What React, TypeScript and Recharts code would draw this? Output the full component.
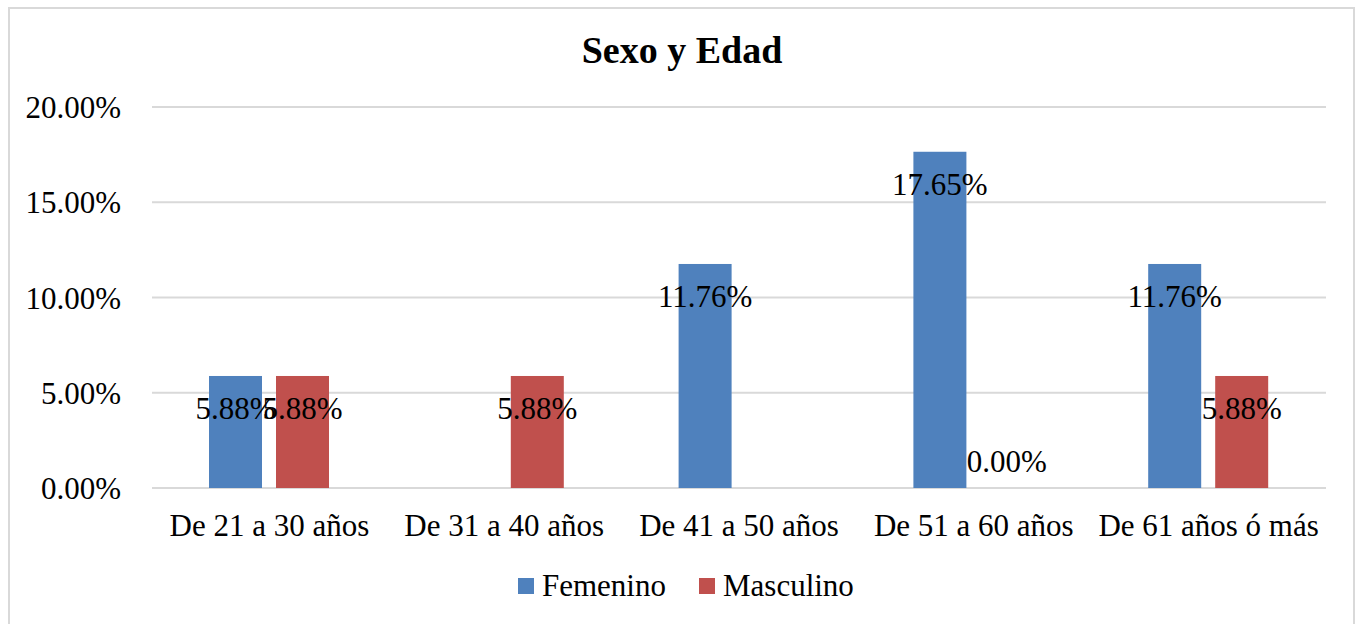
import React from 'react';
import { BarChart, Bar, XAxis, YAxis, CartesianGrid, Legend, LabelList, Rectangle } from 'recharts';

const categories = ['De 21 a 30 años', 'De 31 a 40 años', 'De 41 a 50 años', 'De 51 a 60 años', 'De 61 años ó más'];
const femenino: (number | null)[] = [5.88, null, 11.76, 17.65, 11.76];
const masculino: (number | null)[] = [5.88, 5.88, null, 0, 5.88];
const yTicks = [0, 5, 10, 15, 20];
const seriesNames = ['Femenino', 'Masculino'];
const seriesColors = ['#4F81BD', '#C0504D'];

const data = categories.map((c, i) => ({ name: c, Femenino: femenino[i], Masculino: masculino[i] }));

const FONT = "'Times New Roman', 'Liberation Serif', serif";

const labelText = (cx: number, ty: number, value: number) => (
  <text x={cx} y={ty} textAnchor="middle" fontSize={31} fontFamily={FONT} fill="#000">
    {value.toFixed(2)}%
  </text>
);

const renderLabel = (props: any) => {
  const { x, y, width, height, value } = props;
  if (value === null || value === undefined || Number(value) === 0) return null;
  const cx = Number(x) + Number(width) / 2;
  const ty = Number(y) + 43;
  void height;
  return labelText(cx, ty, Number(value));
};

const makeShape = (fill: string) => (props: any) => {
  const { x, y, width, height, value, payload } = props;
  const v = Array.isArray(value) ? value[1] : value;
  const isZero = v === 0 && payload != null;
  return (
    <g>
      {Number(height) > 0 ? <rect x={x} y={y} width={width} height={height} fill={fill} /> : null}
      {isZero ? labelText(Number(x) + Number(width) / 2, Number(y) - 16, 0) : null}
    </g>
  );
};

const renderLegend = () => (
  <div style={{ display: 'flex', alignItems: 'center', fontFamily: FONT, fontSize: 31, lineHeight: '36px', color: '#000' }}>
    {seriesNames.map((n, i) => (
      <div key={n} style={{ display: 'flex', alignItems: 'center', marginRight: i === 0 ? 33 : 0 }}>
        <div style={{ width: 16, height: 16, background: seriesColors[i], marginRight: 8 }} />
        <span>{n}</span>
      </div>
    ))}
  </div>
);

void Rectangle;

export default function App() {
  return (
    <div style={{ position: 'absolute', left: 0, top: 0, width: 1359, height: 624, overflow: 'hidden', background: '#fff' }}>
      <div style={{ position: 'absolute', left: 8, top: 7, width: 1347, height: 640, border: '2px solid #D9D9D9', boxSizing: 'border-box' }} />
      <div style={{ position: 'absolute', left: 0, top: 28, width: 1364, textAlign: 'center', fontFamily: FONT, fontSize: 38, fontWeight: 'bold', lineHeight: '44px', color: '#000' }}>
        Sexo y Edad
      </div>
      <div style={{ position: 'absolute', left: 0, top: 0 }}>
        <BarChart width={1359} height={624} data={data} margin={{ top: 107, right: 33, left: 0, bottom: 0 }} barSize={53} barGap={14}>
          <CartesianGrid horizontal vertical={false} stroke="#D9D9D9" strokeWidth={2} />
          <XAxis dataKey="name" height={136} axisLine={false} tickLine={false} tickSize={0} tickMargin={26}
            tick={{ fontSize: 31, fontFamily: FONT, fill: '#000' }} interval={0} />
          <YAxis width={152} domain={[0, 20]} ticks={yTicks} axisLine={false} tickLine={false} tickSize={0} tickMargin={31}
            tickFormatter={(v: number) => v.toFixed(2) + '%'} tick={{ fontSize: 31, fontFamily: FONT, fill: '#000' }} />
          <Legend layout="horizontal" verticalAlign="middle" align="center" content={renderLegend}
            wrapperStyle={{ left: 518, top: 567.5, width: 400, height: 36 }} />
          <Bar dataKey="Femenino" fill={seriesColors[0]} isAnimationActive={false} shape={makeShape(seriesColors[0])}>
            <LabelList dataKey="Femenino" content={renderLabel} />
          </Bar>
          <Bar dataKey="Masculino" fill={seriesColors[1]} isAnimationActive={false} shape={makeShape(seriesColors[1])}>
            <LabelList dataKey="Masculino" content={renderLabel} />
          </Bar>
        </BarChart>
      </div>
    </div>
  );
}
